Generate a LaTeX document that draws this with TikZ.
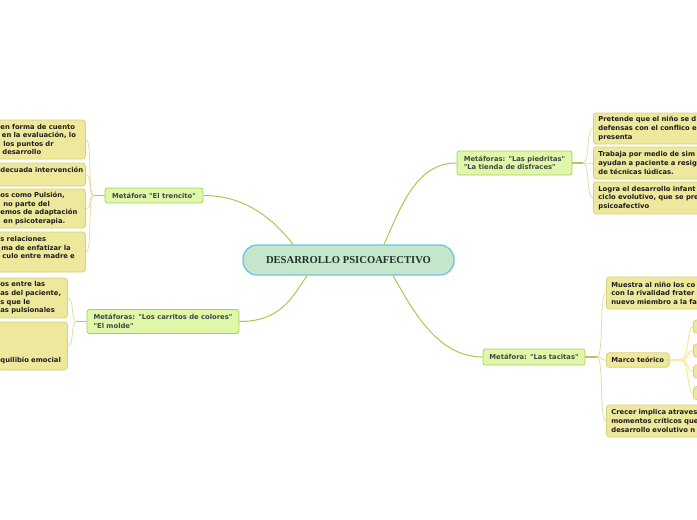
\documentclass[tikz,border=0pt]{standalone}
\usepackage{fontspec}
\setmainfont{DejaVu Sans}[Ligatures=TeXOff]
\newfontfamily\titlefont{Liberation Serif}
\usetikzlibrary{calc}
\definecolor{leaffill}{HTML}{EDE89C}
\definecolor{leafdraw}{HTML}{D8D07C}
\definecolor{metafill}{HTML}{DFF7A8}
\definecolor{metadraw}{HTML}{A9CF58}
\definecolor{rootfill}{HTML}{C6E6CB}
\definecolor{rootdraw}{HTML}{6CC3EA}
\definecolor{mainline}{HTML}{A9C84E}
\definecolor{stemline}{HTML}{C4BC64}
\definecolor{twig}{HTML}{E2DCA4}
\definecolor{marcoline}{HTML}{FCE89A}
\definecolor{leaftext}{HTML}{1E1E1E}
\definecolor{metatext}{HTML}{454545}
\definecolor{roottext}{HTML}{1E3326}
\begin{document}
\begin{tikzpicture}[x=1pt,y=-1pt,
  txt/.style={font=\fontsize{6.8}{8.6}\selectfont\bfseries},
  rootbox/.style={draw=rootdraw, fill=rootfill, line width=1.3pt, rounded corners=14pt,
    font=\titlefont\bfseries\fontsize{10.6}{12}\selectfont, text=roottext, inner sep=0pt},
  metabox/.style={txt, draw=metadraw, fill=metafill, line width=0.8pt, rounded corners=2.5pt,
    text=metatext, align=left, inner xsep=5pt, inner ysep=0pt},
  leafbox/.style={txt, draw=leafdraw, fill=leaffill, line width=0.8pt, rounded corners=3pt,
    text=leaftext, align=left, inner ysep=0pt, anchor=west,
    execute at begin node={\hyphenpenalty=10000\exhyphenpenalty=10000\relax}},
  leftleaf/.style={leafbox, inner xsep=3pt},
  rightleaf/.style={leafbox, inner xsep=5pt, text width=130pt},
  mainconn/.style={draw=mainline, line width=1pt},
  stem/.style={draw=stemline, line width=1.4pt},
  twigline/.style={draw=twig, line width=0.8pt},
  marcotwig/.style={draw=marcoline, line width=1.1pt},
]
\useasboundingbox (0,0) rectangle (697,520);
\clip (0,0) rectangle (697,520);

% root
\node[rootbox, minimum width=211pt, minimum height=30pt] (root) at (348.5,260) {DESARROLLO PSICOAFECTIVO};

% metaphor nodes
\node[metabox, minimum width=98pt, minimum height=15pt] (tren) at (154,195.5) {Metáfora "El trencito"};
\node[metabox, minimum width=152pt, minimum height=24pt] (carr) at (163,321.5) {Metáforas: "Los carritos de colores"\\"El molde"};
\node[metabox, minimum width=115pt, minimum height=24pt] (pied) at (514.5,163) {Metáforas: "Las piedritas"\\"La tienda de disfraces"};
\node[metabox, minimum width=102pt, minimum height=16pt] (taci) at (534,357) {Metáfora: "Las tacitas"};

% left leaves (trencito)
\node[leftleaf, text width=82pt, minimum height=39pt] (l1) at (-3,139.5) {\mbox{en forma de cuento}\\\hspace*{1.5pt}\mbox{en la evaluación, lo}\\\hspace*{3pt}\mbox{los puntos dr}\\\hspace*{2pt}\mbox{desarrollo}};
\node[leftleaf, text width=82pt, minimum height=23pt] (l2) at (-3,174.5) {\mbox{decuada intervención}\\\mbox{}};
\node[leftleaf, text width=82pt, minimum height=39pt] (l3) at (-3,208.5) {\mbox{os como Pulsión,}\\\hspace*{3pt}\mbox{no parte del}\\\mbox{emos de adaptación}\\\hspace*{3pt}\mbox{en psicoterapia.}};
\node[leftleaf, text width=82pt, minimum height=40pt] (l4) at (-3,252) {\mbox{s relaciones}\\\hspace*{1pt}\mbox{ma de enfatizar la}\\\hspace*{2pt}\mbox{culo entre madre e}\\\mbox{}};

% left leaves (carritos)
\node[leftleaf, text width=64pt, minimum height=40pt] (l5) at (-3,298) {\mbox{os entre las}\\\mbox{as del paciente,}\\\mbox{s que le}\\\mbox{as pulsionales}};
\node[leftleaf, text width=64pt, minimum height=48pt] (l6) at (-3,346) {\mbox{}\\\mbox{}\\\mbox{}\\\mbox{}\\\mbox{quilibio emocial}};

% right leaves (piedritas)
\node[rightleaf, minimum height=31pt] (r1) at (593,128.5) {Pretende que el niño se d\\defensas con el conflico e\\presenta};
\node[rightleaf, minimum height=32pt] (r2) at (593,163) {Trabaja por medio de sim\\ayudan a paciente a resig\\de técnicas lúdicas.};
\node[rightleaf, minimum height=32pt] (r3) at (593,198) {Logra el desarrollo infant\\ciclo evolutivo, que se pre\\psicoafectivo};

% right leaves (tacitas)
\node[rightleaf, minimum height=32pt] (r4) at (606,293) {Muestra al niño los co\\con la rivalidad frater\\nuevo miembro a la fa};
\node[leafbox, inner xsep=5pt, minimum width=62pt, minimum height=14.5pt] (marco) at (606,360) {Marco teórico};
\node[rightleaf, minimum height=32pt] (r5) at (606,421) {Crecer implica atraves\\momentos críticos que\\desarrollo evolutivo n};

% marco children
\node[leafbox, minimum width=30pt, minimum height=13pt] (m1) at (693,326.5) {};
\node[leafbox, minimum width=30pt, minimum height=13pt] (m2) at (693,350.5) {};
\node[leafbox, minimum width=30pt, minimum height=13pt] (m3) at (693,371.5) {};
\node[leafbox, minimum width=30pt, minimum height=13pt] (m4) at (693,393) {};

% branch points
\coordinate (b1) at (94,195.5);
\coordinate (b2) at (77,321.5);
\coordinate (b3) at (583,163);
\coordinate (b4) at (597,357);
\coordinate (b5) at (681,360);

% main connectors
\draw[mainconn] (tren.east) .. controls +(40,0) and +(-22,-28) .. ([xshift=-55.5pt]root.north);
\draw[mainconn] ([xshift=35.5pt]root.north) .. controls +(18,-40) and +(-40,0) .. (pied.west);
\draw[mainconn] (carr.east) .. controls +(40,0) and +(-16,24) .. ([xshift=-41.5pt]root.south);
\draw[mainconn] ([xshift=44.5pt]root.south) .. controls +(20,35) and +(-45,0) .. (taci.west);

% stems
\draw[stem] (tren.west) -- (b1);
\draw[stem] (carr.west) -- (b2);
\draw[stem] (pied.east) -- (b3);
\draw[stem] (taci.east) -- (b4);
\draw[marcotwig, line width=2pt] (marco.east) -- (b5);

% twigs
\foreach \n in {l1,l2,l3,l4}
  \draw[twigline] (b1) .. controls +(-7,0) and +(7,0) .. (\n.east);
\foreach \n in {l5,l6}
  \draw[twigline] (b2) .. controls +(-7,0) and +(7,0) .. (\n.east);
\foreach \n in {r1,r2,r3}
  \draw[twigline] (b3) .. controls +(7,0) and +(-7,0) .. (\n.west);
\foreach \n in {r4,marco,r5}
  \draw[twigline] (b4) .. controls +(7,0) and +(-7,0) .. (\n.west);
\foreach \n in {m1,m2,m3,m4}
  \draw[marcotwig] (b5) .. controls +(8,0) and +(-6,0) .. (\n.west);
\end{tikzpicture}
\end{document}
